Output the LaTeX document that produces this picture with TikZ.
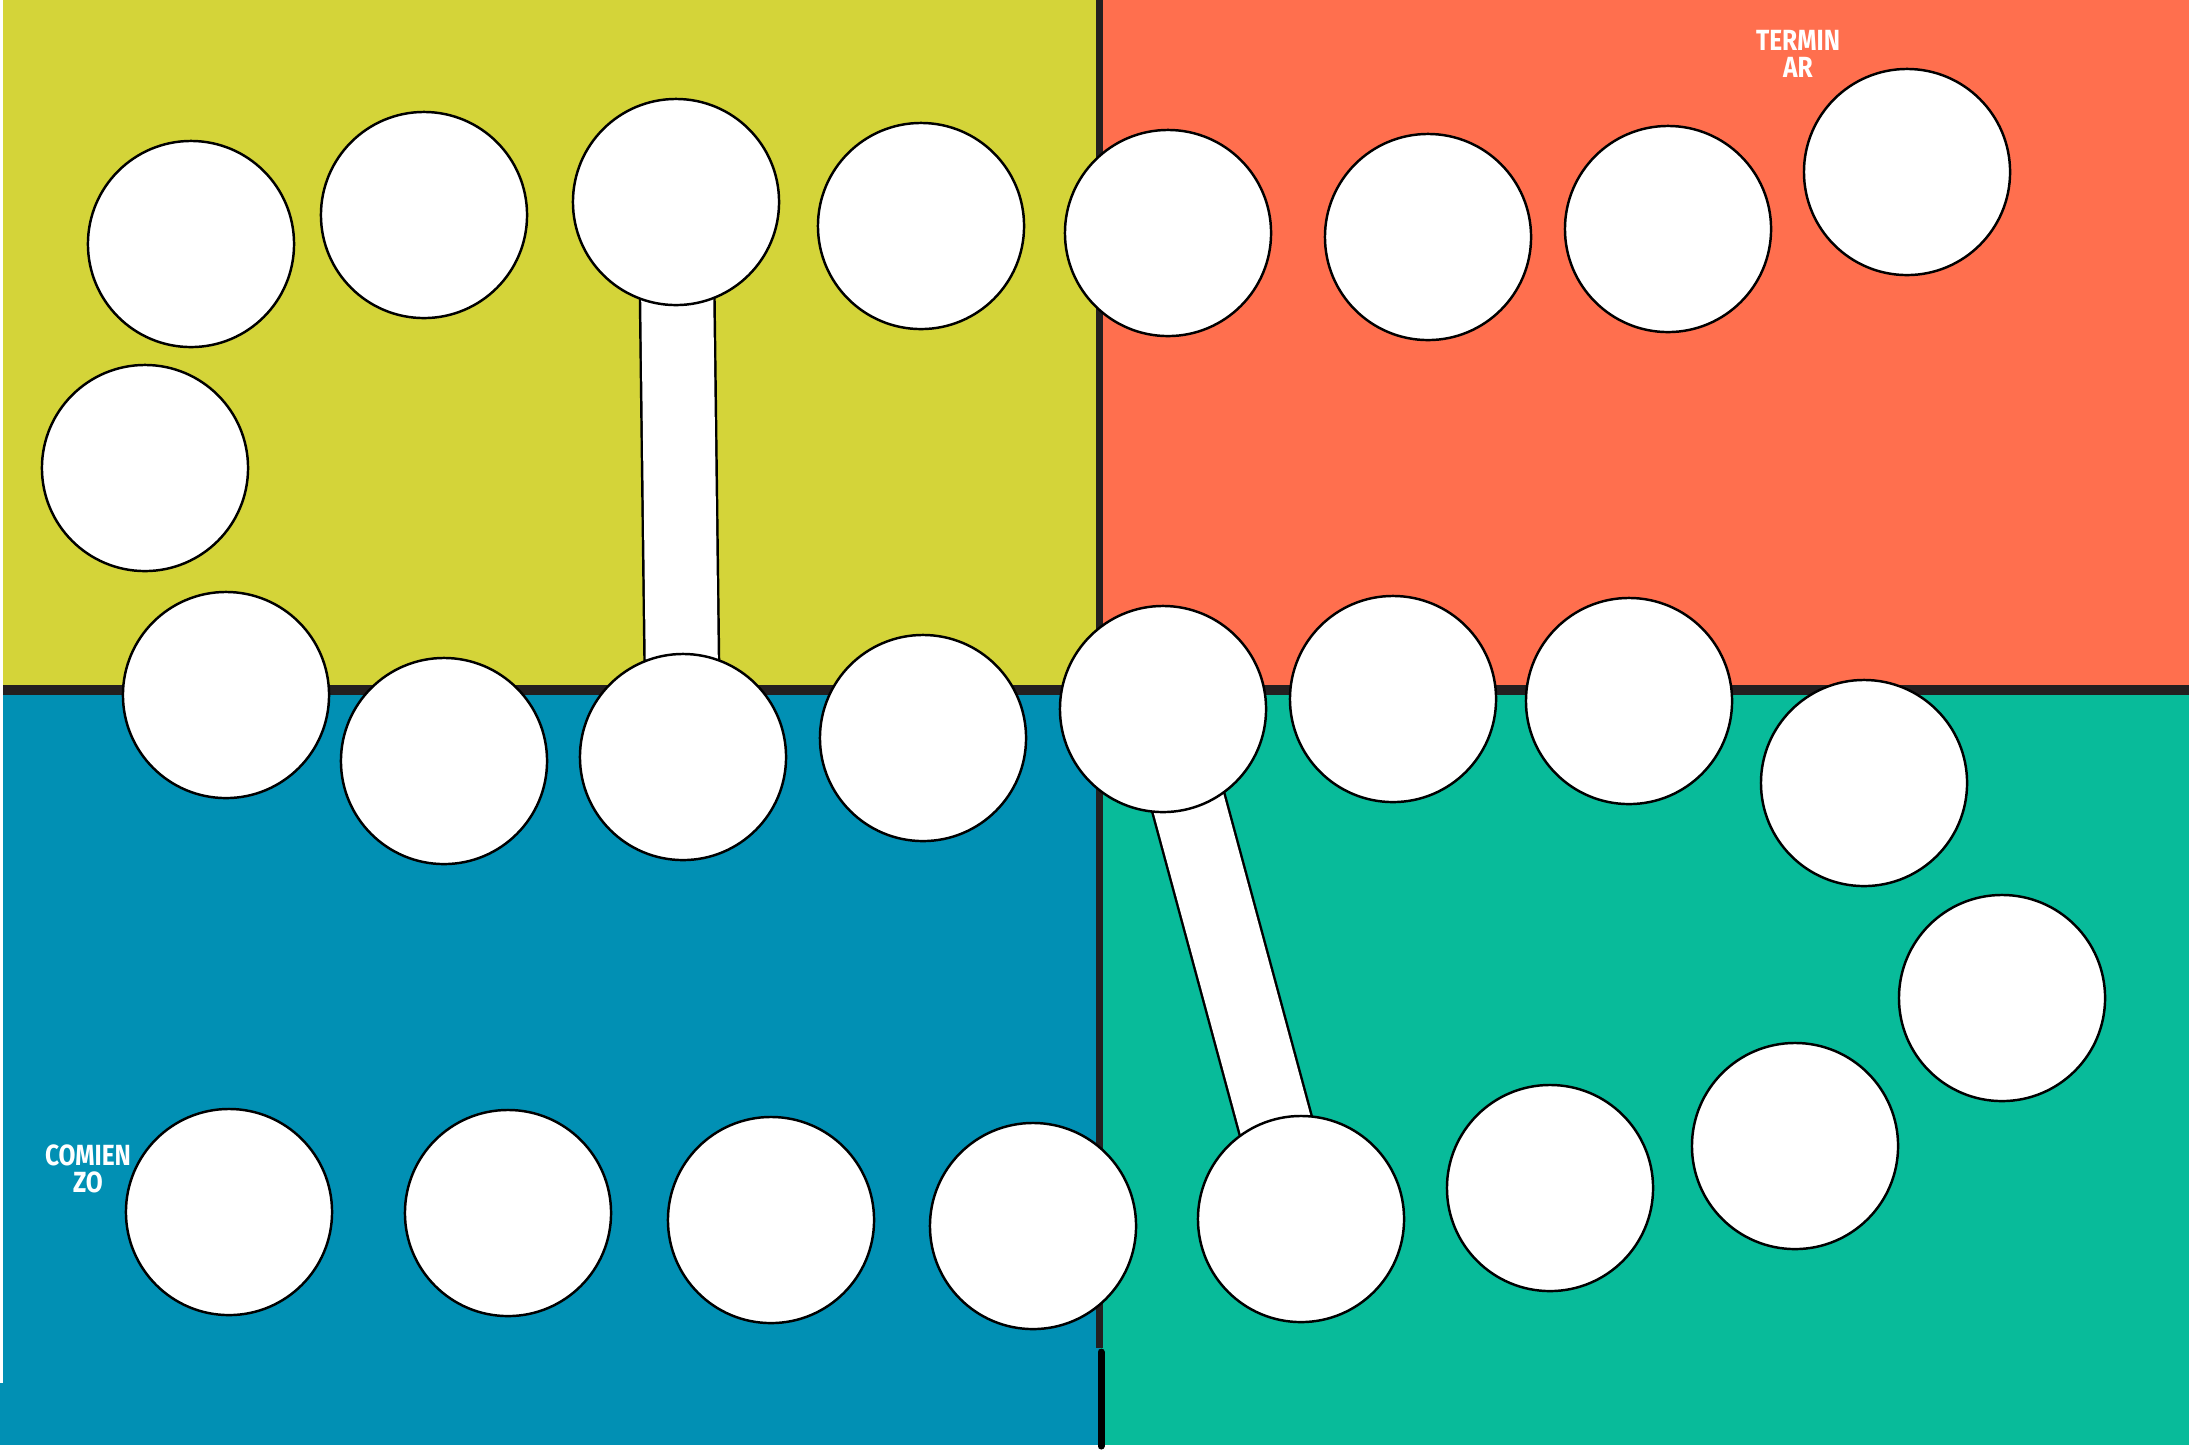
\documentclass[tikz,border=0pt]{standalone}
\usepackage{fontspec}
\newfontfamily\rotulo{Fira Sans}[FakeStretch=0.84]
\definecolor{amarillo}{HTML}{D4D439}
\definecolor{naranja}{HTML}{FF6F4E}
\definecolor{azul}{HTML}{0190B4}
\definecolor{verde}{HTML}{08BB9A}
\definecolor{borde}{HTML}{231F20}
\pgfdeclarelayer{tablero}
\pgfdeclarelayer{escaleras}
\pgfsetlayers{tablero,escaleras,main}
\tikzset{
  casilla/.style={circle, draw=black, fill=white, line width=0.7pt, minimum size=2.06cm, inner sep=0pt},
  escalera/.style={draw=black, line width=0.7pt, double=white, double distance=0.72cm},
  rotulo/.style={text=white, align=center, inner sep=0pt, font=\rotulo\bfseries\fontsize{8.3}{7.7}\selectfont}
}
\begin{document}
\begin{tikzpicture}[x=0.01cm, y=-0.01cm]
    \useasboundingbox (0,0) rectangle (2189,1450);

    % the four coloured quarters of the board
    \begin{pgfonlayer}{tablero}
        \fill[amarillo] (3,0) rectangle (1100,690);
        \fill[naranja] (1100,0) rectangle (2189,690);
        \fill[azul] (3,690) rectangle (1100,1445);
        \fill[azul] (0,1383) rectangle (3,1445);
        \fill[verde] (1100,690) rectangle (2189,1445);
        \draw[borde, line width=2.6pt] (3,690) -- (2189,690);
        \draw[borde, line width=2pt] (1099,0) -- (1099,1348);
        \draw[black, line width=2pt, line cap=round] (1101,1352) -- (1101,1446);
    \end{pgfonlayer}

    % squares of the track, from start to finish
    \foreach \i/\x/\y in {1/229/1212, 2/508/1213, 3/771/1220, 4/1033/1226,
        5/1301/1219, 6/1550/1188, 7/1795/1146, 8/2002/998, 9/1864/783,
        10/1629/701, 11/1393/699, 12/1163/709, 13/923/738, 14/683/757,
        15/444/761, 16/226/695, 17/145/468, 18/191/244, 19/424/215,
        20/676/202, 21/921/226, 22/1168/233, 23/1428/237, 24/1668/229,
        25/1907/172}
        \node[casilla] (c\i) at (\x,\y) {};

    % ladders between squares, running under them
    \begin{pgfonlayer}{escaleras}
        \draw[escalera] (c20.center) -- (c14.center);
        \draw[escalera] (c12.center) -- (c5.center);
    \end{pgfonlayer}

    \node[rotulo] (inicio) at (88,1169) {COMIEN\\ZO};
    \node[rotulo] (final) at (1798,54) {TERMIN\\AR};
\end{tikzpicture}
\end{document}
